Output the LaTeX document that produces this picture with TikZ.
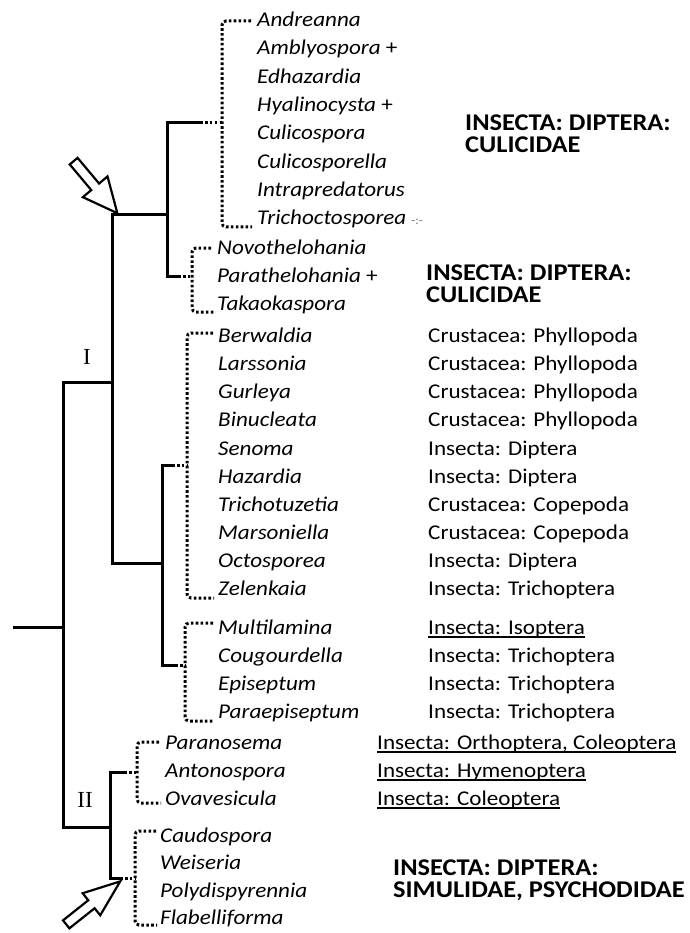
\documentclass[tikz,border=0pt]{standalone}
\usepackage{fontspec}
\setmainfont{Carlito}[FakeStretch=1.1]
\newfontfamily\cladefont{Liberation Serif}
\usetikzlibrary{shapes.arrows,calc}
\newcommand\tplus{{\upshape +}}
\newcommand\hostul[1]{\setbox0\hbox{#1}\rlap{\rule[-3.5pt]{\wd0}{1.4pt}}\box0}
\tikzset{
  branch/.style={line width=3pt},
  dotbr/.style={line width=3pt, dash pattern=on 2.6pt off 2.3pt, rounded corners=4pt},
  taxon/.style={anchor=base west, inner sep=0pt, font=\fontsize{21}{23}\selectfont\itshape},
  host/.style={anchor=base west, inner sep=0pt, font=\fontsize{21}{23}\selectfont},
  order/.style={anchor=north west, inner sep=0pt, align=left,
    font=\fontsize{24}{22.5}\selectfont\bfseries},
  cladelab/.style={inner sep=0pt, font=\fontsize{23}{23}\selectfont\cladefont},
  hollowarr/.style={single arrow, draw, line width=2.2pt, fill=white, inner sep=4pt,
    minimum width=30pt, single arrow head extend=11pt, single arrow tip angle=50},
}

\begin{document}
\begin{tikzpicture}[x=1pt,y=-1pt]
  \useasboundingbox (0,0) rectangle (689,933);
  % backbone
  \coordinate (stem) at (13,627);
  \coordinate (nRoot) at (63,627);
  \coordinate (nI) at (112,382);
  \coordinate (nII) at (110,827);
  \coordinate (nA) at (167,215);
  \coordinate (nB) at (162,563);
  \coordinate (jA1) at (200,123);
  \coordinate (jA2) at (178,276);
  \coordinate (jB1) at (172,465);
  \coordinate (jB2) at (175,665);
  \coordinate (jC1) at (124,772);
  \coordinate (jC2) at (120,878);
  % bracket knots
  \coordinate (kA1) at (222,123);
  \coordinate (kA2) at (192,276);
  \coordinate (kB1) at (187,465);
  \coordinate (kB2) at (185,665);
  \coordinate (kC1) at (137,772);
  \coordinate (kC2) at (135,878);

  \draw[branch] (stem) -- (nRoot);
  \draw[branch] (nI) -| (nRoot) |- (nII);
  \draw[branch] (nA) -| (nI) |- (nB);
  \draw[branch] (jA1) -| (nA) |- (jA2);
  \draw[branch] (jB1) -| (nB) |- (jB2);
  \draw[branch] (jC1) -| (nII) |- (jC2);
  \foreach \j/\k in {jA1/kA1, jA2/kA2, jB1/kB1, jB2/kB2, jC1/kC1, jC2/kC2}
    \draw[dotbr] (\j) -- (\k);

  \node[cladelab] (labI) at (87,357) {I};
  \node[cladelab] (labII) at (85,800) {II};

  % taxa
  \node[taxon] (andr) at (257,27) {Andreanna};
  \node[taxon] (ambl) at (257,55) {Amblyospora \tplus};
  \node[taxon] (edha) at (257,84) {Edhazardia};
  \node[taxon] (hyal) at (257,112) {Hyalinocysta \tplus};
  \node[taxon] (culi) at (257,140) {Culicospora};
  \node[taxon] (culc) at (257,169) {Culicosporella};
  \node[taxon] (intr) at (257,197) {Intrapredatorus};
  \node[taxon] (tric) at (257,225) {Trichoctosporea\hspace{5pt}{\upshape\fontsize{12}{12}\selectfont\color{black!55}-:-}};
  \node[taxon] (novo) at (217,254) {Novothelohania};
  \node[taxon] (para) at (217,282) {Parathelohania \tplus};
  \node[taxon] (taka) at (217,310) {Takaokaspora};
  \node[taxon] (berw) at (218,342) {Berwaldia};
  \node[taxon] (lars) at (218,370) {Larssonia};
  \node[taxon] (gurl) at (218,398) {Gurleya};
  \node[taxon] (binu) at (218,426) {Binucleata};
  \node[taxon] (seno) at (218,455) {Senoma};
  \node[taxon] (haza) at (218,483) {Hazardia};
  \node[taxon] (trtu) at (218,511) {Trichotuzetia};
  \node[taxon] (mars) at (218,539) {Marsoniella};
  \node[taxon] (octo) at (218,567) {Octosporea};
  \node[taxon] (zele) at (218,595) {Zelenkaia};
  \node[taxon] (mult) at (218,634) {Multilamina};
  \node[taxon] (coug) at (218,662) {Cougourdella};
  \node[taxon] (epis) at (218,690) {Episeptum};
  \node[taxon] (paep) at (218,718) {Paraepiseptum};
  \node[taxon] (pano) at (165,749) {Paranosema};
  \node[taxon] (anto) at (165,777) {Antonospora};
  \node[taxon] (ovav) at (165,805) {Ovavesicula};
  \node[taxon] (caud) at (160,842) {Caudospora};
  \node[taxon] (weis) at (160,869) {Weiseria};
  \node[taxon] (poly) at (160,897) {Polydispyrennia};
  \node[taxon] (flab) at (160,924) {Flabelliforma};

  % dotted brackets
  \draw[dotbr] ([shift={(-6,-6)}]andr.base west) -| (kA1) |- ([shift={(-5,2)}]tric.base west);
  \draw[dotbr] ([shift={(-6,-6)}]novo.base west) -| (kA2) |- ([shift={(-3,2)}]taka.base west);
  \draw[dotbr] ([shift={(-5,-9)}]berw.base west) -| (kB1) |- ([shift={(-4,3)}]zele.base west);
  \draw[dotbr] ([shift={(-5,-11)}]mult.base west) -| (kB2) |- ([shift={(-4,3)}]paep.base west);
  \draw[dotbr] ([shift={(-6,-7)}]pano.base west) -| (kC1) |- ([shift={(-4,-2)}]ovav.base west);
  \draw[dotbr] ([shift={(-4,-11)}]caud.base west) -| (kC2) |- ([shift={(-3,1)}]flab.base west);

  % hosts
  \node[host] (hBerw) at (428,342) {Crustacea: Phyllopoda};
  \node[host] (hLars) at (428,370) {Crustacea: Phyllopoda};
  \node[host] (hGurl) at (428,398) {Crustacea: Phyllopoda};
  \node[host] (hBinu) at (428,426) {Crustacea: Phyllopoda};
  \node[host] (hSeno) at (428,455) {Insecta: Diptera};
  \node[host] (hHaza) at (428,483) {Insecta: Diptera};
  \node[host] (hTrtu) at (428,511) {Crustacea: Copepoda};
  \node[host] (hMars) at (428,539) {Crustacea: Copepoda};
  \node[host] (hOcto) at (428,567) {Insecta: Diptera};
  \node[host] (hZele) at (428,595) {Insecta: Trichoptera};
  \node[host] (hMult) at (428,634) {\hostul{Insecta: Isoptera}};
  \node[host] (hCoug) at (428,662) {Insecta: Trichoptera};
  \node[host] (hEpis) at (428,690) {Insecta: Trichoptera};
  \node[host] (hPaep) at (428,718) {Insecta: Trichoptera};
  \node[host] (hPano) at (377,749) {\hostul{Insecta: Orthoptera, Coleoptera}};
  \node[host] (hAnto) at (377,777) {\hostul{Insecta: Hymenoptera}};
  \node[host] (hOvav) at (377,805) {\hostul{Insecta: Coleoptera}};

  \node[order] (ordCulA) at (465,114.5) {INSECTA: DIPTERA:\\CULICIDAE};
  \node[order] (ordCulB) at (426,264.5) {INSECTA: DIPTERA:\\CULICIDAE};
  \node[order] (ordSim) at (393,859.5) {INSECTA: DIPTERA:\\SIMULIDAE, PSYCHODIDAE};

  % arrows at the two focal nodes
  \node[hollowarr, minimum height=68pt, rotate=-50] (arrTop) at (92,183) {};
  \node[hollowarr, minimum height=69pt, minimum width=26pt,
    single arrow head extend=9pt, single arrow tip angle=42, rotate=38.5] (arrBot) at (88,907) {};
\end{tikzpicture}
\end{document}
